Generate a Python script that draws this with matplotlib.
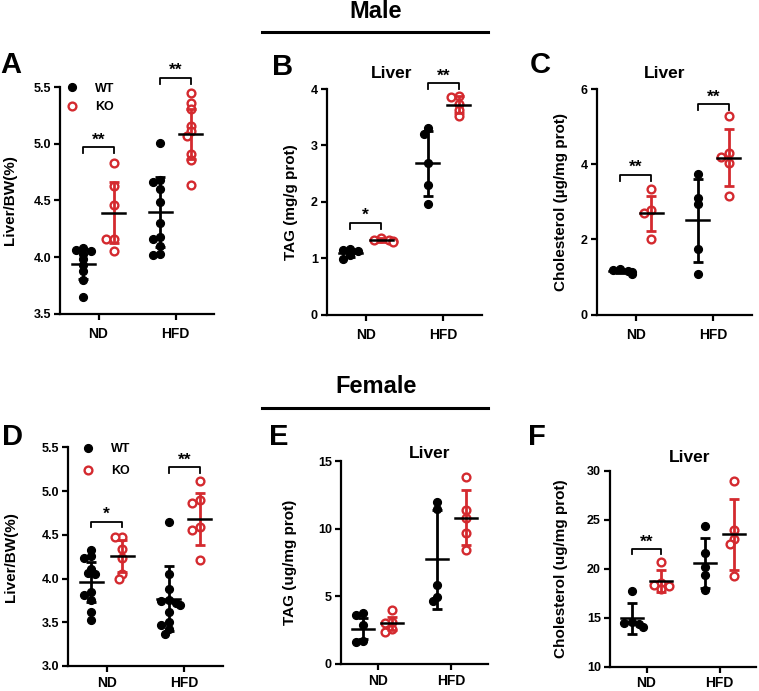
import matplotlib
matplotlib.use("Agg")
import matplotlib.pyplot as plt
from matplotlib.lines import Line2D
import numpy as np

plt.rcParams["font.family"] = ["Liberation Sans", "DejaVu Sans"]
plt.rcParams["font.weight"] = "bold"

RED = "#d42a2f"
GROUPS = ["ND", "HFD"]

# ---- data ----
# panel A: male liver/BW
A_WT_ND = [4.08, 4.06, 4.05, 4.03, 3.98, 3.93, 3.88, 3.80, 3.65]
A_KO_ND = [4.83, 4.63, 4.46, 4.16, 4.16, 4.05]
A_WT_HFD = [5.01, 4.68, 4.66, 4.60, 4.49, 4.30, 4.18, 4.16, 4.10, 4.03, 4.02]
A_KO_HFD = [5.45, 5.36, 5.31, 5.16, 5.11, 5.07, 4.91, 4.86, 4.64]
A_MEAN = [3.94, 4.39, 4.40, 5.09]
A_SD = [0.13, 0.27, 0.31, 0.22]
A_SIG = [(4.97, "**"), (5.58, "**")]

# panel B: male liver TAG
B_WT_ND = [1.17, 1.14, 1.12, 1.05, 0.99]
B_KO_ND = [1.35, 1.33, 1.32, 1.30, 1.28]
B_WT_HFD = [3.30, 3.21, 2.68, 2.29, 1.96]
B_KO_HFD = [3.88, 3.86, 3.74, 3.62, 3.52]
B_MEAN = [1.10, 1.32, 2.68, 3.72]
B_SD = [0.07, 0.03, 0.58, 0.15]
B_SIG = [(1.62, "*"), (4.10, "**")]

# panel C: male liver cholesterol
C_WT_ND = [1.22, 1.18, 1.15, 1.12, 1.08]
C_KO_ND = [3.33, 2.79, 2.69, 2.02]
C_WT_HFD = [3.74, 3.11, 2.95, 1.74, 1.07]
C_KO_HFD = [5.29, 4.29, 4.20, 4.02, 3.16]
C_MEAN = [1.16, 2.69, 2.51, 4.17]
C_SD = [0.05, 0.47, 1.10, 0.76]
C_SIG = [(3.71, "**"), (5.59, "**")]

# panel D: female liver/BW
D_WT_ND = [4.33, 4.26, 4.23, 4.11, 4.06, 4.05, 3.85, 3.81, 3.75, 3.62, 3.53]
D_KO_ND = [4.48, 4.47, 4.34, 4.23, 4.05, 4.00]
D_WT_HFD = [4.65, 4.05, 3.88, 3.75, 3.74, 3.72, 3.70, 3.62, 3.50, 3.47, 3.42, 3.37]
D_KO_HFD = [5.12, 4.90, 4.86, 4.59, 4.55, 4.21]
D_MEAN = [3.96, 4.26, 3.77, 4.68]
D_SD = [0.23, 0.18, 0.37, 0.30]
D_SIG = [(4.65, "*"), (5.27, "**")]

# panel E: female liver TAG
E_WT_ND = [3.78, 3.60, 2.85, 1.72, 1.60]
E_KO_ND = [3.99, 3.13, 3.00, 2.55, 2.39]
E_WT_HFD = [12.0, 11.43, 5.84, 4.98, 4.66]
E_KO_HFD = [13.84, 11.38, 10.76, 9.66, 8.42]
E_MEAN = [2.61, 3.00, 7.73, 10.81]
E_SD = [0.76, 0.50, 3.65, 2.05]
E_SIG = [None, None]

# panel F: female liver cholesterol
F_WT_ND = [17.7, 14.6, 14.5, 14.4, 14.1]
F_KO_ND = [20.7, 18.6, 18.4, 18.2, 17.9]
F_WT_HFD = [24.38, 21.58, 20.22, 19.37, 17.84]
F_KO_HFD = [28.98, 23.97, 23.0, 22.54, 19.27]
F_MEAN = [14.94, 18.76, 20.6, 23.53]
F_SD = [1.55, 1.11, 2.55, 3.6]
F_SIG = [(22.0, "**"), None]

PANELS = [
    dict(letter="A", groups=[A_WT_ND, A_KO_ND, A_WT_HFD, A_KO_HFD], mean=A_MEAN, sd=A_SD, sig=A_SIG,
         ylim=(3.5, 5.5), step=0.5, ylabel="Liver/BW(%)", title=None, legend=True,
         box=(60, 87.3, 214, 313.6), ylab_x=-0.28),
    dict(letter="B", groups=[B_WT_ND, B_KO_ND, B_WT_HFD, B_KO_HFD], mean=B_MEAN, sd=B_SD, sig=B_SIG,
         ylim=(0, 4), step=1, ylabel="TAG (mg/g prot)", title=(392, 74), legend=False,
         box=(327, 89, 482, 314.6), ylab_x=-0.19),
    dict(letter="C", groups=[C_WT_ND, C_KO_ND, C_WT_HFD, C_KO_HFD], mean=C_MEAN, sd=C_SD, sig=C_SIG,
         ylim=(0, 6), step=2, ylabel="Cholesterol (\u00b5g/mg prot)", title=(665, 74), legend=False,
         box=(597, 89, 752, 314.6), ylab_x=-0.19),
    dict(letter="D", groups=[D_WT_ND, D_KO_ND, D_WT_HFD, D_KO_HFD], mean=D_MEAN, sd=D_SD, sig=D_SIG,
         ylim=(3.0, 5.5), step=0.5, ylabel="Liver/BW(%)", title=None, legend=True,
         box=(68, 447.3, 223, 666), ylab_x=-0.32),
    dict(letter="E", groups=[E_WT_ND, E_KO_ND, E_WT_HFD, E_KO_HFD], mean=E_MEAN, sd=E_SD, sig=E_SIG,
         ylim=(0, 15), step=5, ylabel="TAG (ug/mg prot)", title=(430, 453), legend=False,
         box=(341, 461, 488, 664), ylab_x=-0.30),
    dict(letter="F", groups=[F_WT_ND, F_KO_ND, F_WT_HFD, F_KO_HFD], mean=F_MEAN, sd=F_SD, sig=F_SIG,
         ylim=(10, 30), step=5, ylabel="Cholesterol (ug/mg prot)", title=(690, 458), legend=False,
         box=(610, 471, 756, 666.7), ylab_x=-0.29),
]

W, H = 759, 691
OFFSET = 0.2
MS = 5.6
DIAM_PX = 7.5


def swarm(vals, ylim, h_px, px_per_x):
    """simple beeswarm: offsets in data-x units"""
    order = np.argsort(vals)[::-1]
    placed = []
    offs = np.zeros(len(vals))
    scale = h_px / (ylim[1] - ylim[0])
    s = 0.5 * DIAM_PX
    for i in order:
        y = vals[i] * scale
        for k in [0, -1, 1, -2, 2, -3, 3]:
            x = k * s
            if all((x - px) ** 2 + (y - py) ** 2 >= (0.75 * DIAM_PX) ** 2 for px, py in placed):
                break
        placed.append((x, y))
        offs[i] = x / px_per_x
    return offs


fig = plt.figure(figsize=(W / 100, H / 100), dpi=100)

for p in PANELS:
    x0, y0, x1, y1 = p["box"]
    ax = fig.add_axes([x0 / W, 1 - y1 / H, (x1 - x0) / W, (y1 - y0) / H])
    xlim = (0.5, 2.5)
    ax.set_xlim(*xlim)
    ax.set_ylim(*p["ylim"])
    px_per_x = (x1 - x0) / (xlim[1] - xlim[0])
    centers = [1 - OFFSET, 1 + OFFSET, 2 - OFFSET, 2 + OFFSET]

    for j, vals in enumerate(p["groups"]):
        vals = np.array(vals)
        offs = swarm(vals, p["ylim"], y1 - y0, px_per_x)
        xs = centers[j] + offs
        if j % 2 == 0:
            ax.plot(xs, vals, "o", color="black", ms=MS, zorder=3, clip_on=False)
        else:
            ax.plot(xs, vals, "o", mfc="white", mec=RED, mew=1.7, ms=MS, zorder=3, clip_on=False)
        col = "black" if j % 2 == 0 else RED
        m, sd = p["mean"][j], p["sd"][j]
        ax.errorbar([centers[j]], [m], yerr=[sd], fmt="none", ecolor=col, elinewidth=2.0,
                    capsize=3.5, capthick=2.0, zorder=4)
        ax.plot([centers[j] - 0.15, centers[j] + 0.15], [m, m], color="black", lw=1.8, zorder=5)

    # significance brackets
    tick_h = (p["ylim"][1] - p["ylim"][0]) * 0.025
    for g, sig in enumerate(p["sig"]):
        if sig is None:
            continue
        yb, star = sig
        xa, xb = centers[2 * g], centers[2 * g + 1]
        ax.plot([xa, xa, xb, xb], [yb - tick_h, yb, yb, yb - tick_h], color="black", lw=1.3,
                clip_on=False, zorder=6)
        ax.text((xa + xb) / 2, yb, star, ha="center", va="bottom", fontsize=12.5,
                fontweight="bold", clip_on=False)

    ax.set_yticks(np.arange(p["ylim"][0], p["ylim"][1] + 1e-9, p["step"]))
    if p["step"] < 1:
        ax.set_yticklabels([f"{v:.1f}" for v in ax.get_yticks()])
    else:
        ax.set_yticklabels([f"{v:.0f}" for v in ax.get_yticks()])
    ax.set_xticks([1, 2])
    ax.set_xticklabels(GROUPS)
    for sp in ["top", "right"]:
        ax.spines[sp].set_visible(False)
    for sp in ["left", "bottom"]:
        ax.spines[sp].set_linewidth(1.6)
    ax.tick_params(axis="both", width=1.6, length=4.5)
    ax.tick_params(axis="y", labelsize=9, pad=2)
    ax.tick_params(axis="x", labelsize=10, pad=5 if y1 < 400 else 2.5)
    for lab in ax.get_xticklabels() + ax.get_yticklabels():
        lab.set_fontweight("bold")
    ax.set_ylabel(p["ylabel"], fontsize=11, fontweight="bold")
    ax.yaxis.set_label_coords(p["ylab_x"], 0.5)

    if p["title"]:
        tx, ty = p["title"]
        fig.text(tx / W, 1 - ty / H, "Liver", ha="center", va="center", fontsize=12.5,
                 fontweight="bold")

    if p["legend"]:
        handles = [Line2D([], [], ls="none", marker="o", color="black", ms=MS),
                   Line2D([], [], ls="none", marker="o", mfc="white", mec=RED, mew=1.7, ms=MS)]
        lx = 0.04 if p["letter"] == "A" else 0.09
        ax.legend(handles, ["WT", "KO"], loc="upper left", bbox_to_anchor=(lx, 1.02),
                  frameon=False, handlelength=1.0, handletextpad=1.3,
                  borderaxespad=0, borderpad=0,
                  labelspacing=0.5 if p["letter"] == "A" else 0.8,
                  prop={"weight": "bold", "size": 9})

# panel letters
LETTER_POS = {"A": (11, 65), "B": (283, 67), "C": (540, 65),
              "D": (12, 437), "E": (279, 437), "F": (537, 437)}
for p in PANELS:
    lx, ly = LETTER_POS[p["letter"]]
    fig.text(lx / W, 1 - ly / H, p["letter"], ha="center", va="center", fontsize=21,
             fontweight="bold")

# sex headers
for text, ty, ly in [("Male", 12, 32), ("Female", 387, 408)]:
    fig.text(376 / W, 1 - ty / H, text, ha="center", va="center", fontsize=17, fontweight="bold")
    fig.add_artist(Line2D([262 / W, 488 / W], [1 - ly / H, 1 - ly / H], color="black", lw=2.2))

fig.savefig("out.png", dpi=100)
